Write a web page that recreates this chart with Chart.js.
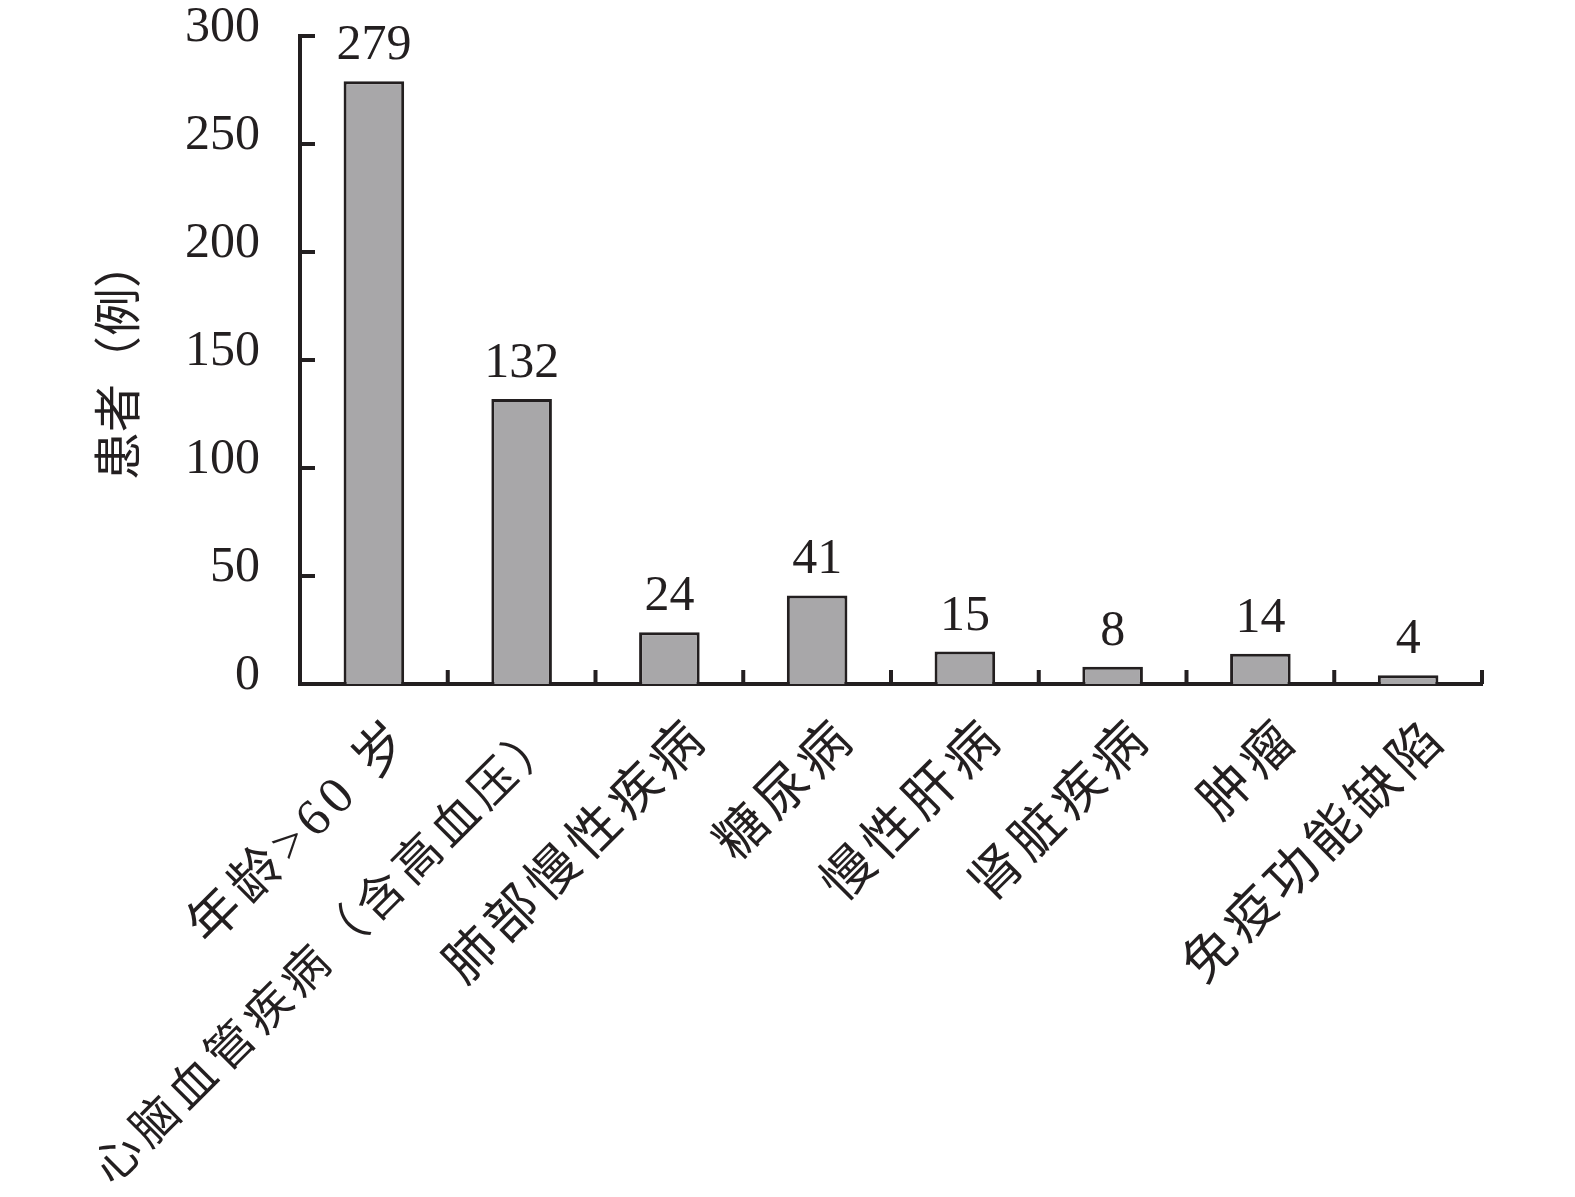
<!DOCTYPE html>
<html>
<head>
<meta charset="utf-8">
<script src="https://cdn.jsdelivr.net/npm/chart.js@4/dist/chart.umd.min.js"></script>
<style>
  html, body { margin: 0; padding: 0; background: #fff; }
  canvas { display: block; }
</style>
</head>
<body>
<canvas id="riskChart" width="1575" height="1197"></canvas>
<script>
const categories = ['年龄>60 岁', '心脑血管疾病（含高血压）', '肺部慢性疾病', '糖尿病', '慢性肝病', '肾脏疾病', '肿瘤', '免疫功能缺陷'];
const patients = [279, 132, 24, 41, 15, 8, 14, 4];
const yTicks = [0, 50, 100, 150, 200, 250, 300];

const ink = '#231f20';
const serif = "'Liberation Serif', 'Noto Sans CJK SC', serif";

// value above each bar, then widen the CJK category labels a bit
const barValues = {
  id: 'barValues',
  afterDatasetsDraw(chart) {
    const ctx = chart.ctx;
    const meta = chart.getDatasetMeta(0);
    ctx.save();
    ctx.font = '50px ' + serif;
    ctx.fillStyle = ink;
    ctx.textAlign = 'center';
    ctx.textBaseline = 'alphabetic';
    meta.data.forEach((bar, i) => {
      ctx.fillText(String(patients[i]), bar.x, bar.y - 22);
    });
    ctx.restore();
    ctx.letterSpacing = '6px';
  }
};

// short tick marks pointing into the plot
const innerTicks = {
  id: 'innerTicks',
  afterDraw(chart) {
    const ctx = chart.ctx;
    ctx.letterSpacing = '0px';
    const x = chart.scales.x;
    const y = chart.scales.y;
    const area = chart.chartArea;
    ctx.save();
    ctx.strokeStyle = ink;
    ctx.lineWidth = 4;
    ctx.beginPath();
    y.ticks.forEach((t, i) => {
      if (t.value === 0) return;
      const py = y.getPixelForTick(i);
      ctx.moveTo(area.left, py);
      ctx.lineTo(area.left + 15, py);
    });
    for (let i = 1; i <= categories.length; i++) {
      const px = x.getPixelForValue(i - 0.5);
      ctx.moveTo(px, area.bottom);
      ctx.lineTo(px, area.bottom - 14);
    }
    ctx.stroke();
    ctx.restore();
  }
};

new Chart(document.getElementById('riskChart'), {
  type: 'bar',
  data: {
    labels: categories,
    datasets: [{
      data: patients,
      backgroundColor: '#a8a7a9',
      borderColor: ink,
      borderWidth: 3,
      categoryPercentage: 1,
      barPercentage: 0.41
    }]
  },
  options: {
    responsive: false,
    devicePixelRatio: 1,
    animation: false,
    layout: { padding: { top: 36, right: 93, left: 0, bottom: 0 } },
    plugins: {
      legend: { display: false },
      tooltip: { enabled: false }
    },
    scales: {
      x: {
        grid: { display: false, drawTicks: false },
        border: { display: true, color: ink, width: 4 },
        ticks: {
          z: 1,
          autoSkip: false,
          maxRotation: 45,
          minRotation: 45,
          padding: 24,
          labelOffset: 32,
          color: ink,
          // the long label has full-width brackets, keep it inside the canvas
          font: (c) => ({ family: serif, size: c.index === 1 ? 47 : 52 })
        },
        afterFit(scale) {
          scale.height = 513;
          scale.paddingLeft = 0;
          scale.paddingRight = 0;
        }
      },
      y: {
        min: 0,
        max: 300,
        afterBuildTicks(scale) { scale.ticks = yTicks.map(v => ({ value: v })); },
        grid: { display: false, drawTicks: false },
        border: { display: true, color: ink, width: 4 },
        ticks: {
          padding: 40,
          labelOffset: -8,
          color: ink,
          font: { family: serif, size: 50 }
        },
        title: {
          display: true,
          text: '患者（例）',
          color: ink,
          font: { family: serif, size: 48 },
          padding: { top: 94, bottom: 0 }
        },
        afterFit(scale) {
          scale.width = 300;
          scale.paddingTop = 0;
          scale.paddingBottom = 0;
        }
      }
    }
  },
  plugins: [barValues, innerTicks]
});
</script>
</body>
</html>
